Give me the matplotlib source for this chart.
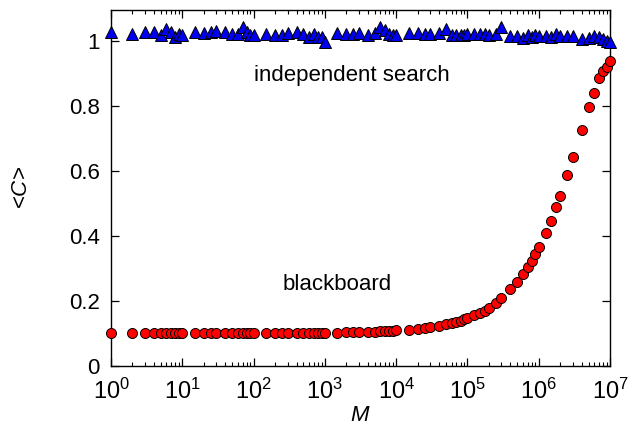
import matplotlib
matplotlib.use("Agg")
import matplotlib.pyplot as plt
from matplotlib.ticker import LogLocator, NullFormatter, FixedLocator

plt.rcParams['font.family'] = ['Liberation Sans', 'DejaVu Sans']
plt.rcParams['mathtext.fontset'] = 'custom'
plt.rcParams['mathtext.rm'] = 'Liberation Sans'
plt.rcParams['mathtext.it'] = 'Liberation Sans:italic'

M = [1, 2, 3, 4, 5, 6, 7, 8, 9,
     10, 15, 20, 25, 30, 40, 50, 60, 70, 80, 90,
     100, 150, 200, 250, 300, 400, 500, 600, 700, 800, 900,
     1000, 1500, 2000, 2500, 3000, 4000, 5000, 6000, 7000, 8000, 9000,
     1e4, 1.5e4, 2e4, 2.5e4, 3e4, 4e4, 5e4, 6e4, 7e4, 8e4, 9e4,
     1e5, 1.25e5, 1.5e5, 1.75e5, 2e5, 2.5e5, 3e5, 4e5, 5e5, 6e5, 7e5, 8e5, 9e5,
     1e6, 1.25e6, 1.5e6, 1.75e6, 2e6, 2.5e6, 3e6, 4e6, 5e6, 6e6, 7e6, 8e6, 9e6, 1e7]

C_blackboard = [0.102, 0.102, 0.102, 0.102, 0.101, 0.102, 0.101, 0.102, 0.101,
                0.102, 0.102, 0.101, 0.102, 0.102, 0.102, 0.101, 0.102, 0.101, 0.102, 0.102,
                0.102, 0.102, 0.101, 0.102, 0.102, 0.103, 0.102, 0.102, 0.102, 0.103, 0.102,
                0.103, 0.103, 0.104, 0.104, 0.105, 0.105, 0.106, 0.107, 0.107, 0.108, 0.108,
                0.110, 0.112, 0.114, 0.117, 0.119, 0.123, 0.128, 0.132, 0.136, 0.139, 0.143,
                0.148, 0.156, 0.162, 0.170, 0.177, 0.195, 0.210, 0.237, 0.259, 0.283, 0.304, 0.324, 0.345,
                0.365, 0.409, 0.446, 0.490, 0.522, 0.587, 0.642, 0.726, 0.798, 0.841, 0.885, 0.908, 0.921, 0.938]

C_independent = [1.026, 1.022, 1.026, 1.026, 1.018, 1.036, 1.028, 1.013, 1.020,
                 1.018, 1.026, 1.024, 1.026, 1.030, 1.027, 1.021, 1.021, 1.044, 1.026, 1.018,
                 1.018, 1.020, 1.018, 1.019, 1.023, 1.027, 1.021, 1.011, 1.021, 1.013, 1.011,
                 0.995, 1.023, 1.021, 1.020, 1.025, 1.018, 1.023, 1.042, 1.032, 1.020, 1.018,
                 1.018, 1.023, 1.024, 1.022, 1.021, 1.025, 1.037, 1.018, 1.018, 1.018, 1.017,
                 1.021, 1.021, 1.021, 1.020, 1.018, 1.020, 1.042, 1.015, 1.015, 1.008, 1.018, 1.013, 1.018,
                 1.015, 1.016, 1.013, 1.020, 1.015, 1.016, 1.016, 1.005, 1.008, 1.015, 1.012, 1.005, 1.000, 0.995]

fig = plt.figure(figsize=(6.29, 4.32), dpi=100)
ax = fig.add_axes([0.1765, 0.1528, 0.7933, 0.8241])

ax.plot(M, C_independent, linestyle='none', marker='^', markersize=8,
        markerfacecolor='#0000ee', markeredgecolor='black', markeredgewidth=0.7,
        clip_on=False, zorder=3)
ax.plot(M, C_blackboard, linestyle='none', marker='o', markersize=7.2,
        markerfacecolor='#ff0000', markeredgecolor='black', markeredgewidth=0.7,
        clip_on=False, zorder=4)

ax.set_xscale('log')
ax.set_xlim(1, 1e7)
ax.set_ylim(0, 1.095)
ax.xaxis.set_major_locator(LogLocator(base=10, numticks=20))
ax.xaxis.set_minor_locator(LogLocator(base=10, subs=range(2, 10), numticks=20))
ax.xaxis.set_minor_formatter(NullFormatter())
ax.yaxis.set_major_locator(FixedLocator([0, 0.2, 0.4, 0.6, 0.8, 1.0]))
ax.set_yticklabels(['0', '0.2', '0.4', '0.6', '0.8', '1'])

ax.tick_params(which='both', direction='in', top=True, right=True, labelsize=16)
ax.tick_params(which='major', length=6, width=0.9, pad=8)
ax.tick_params(which='minor', length=3, width=0.8)
ax.tick_params(axis='x', which='major', labelsize=17, pad=9)
for s in ax.spines.values():
    s.set_linewidth(1.0)

ax.set_xlabel('$M$', fontsize=16, labelpad=1)
ax.set_ylabel('<$C$>', fontsize=16, labelpad=27)

ax.text(2400, 0.895, 'independent search', fontsize=16, ha='center', va='center')
ax.text(1500, 0.25, 'blackboard', fontsize=16, ha='center', va='center')

fig.savefig('out.png', dpi=100)
